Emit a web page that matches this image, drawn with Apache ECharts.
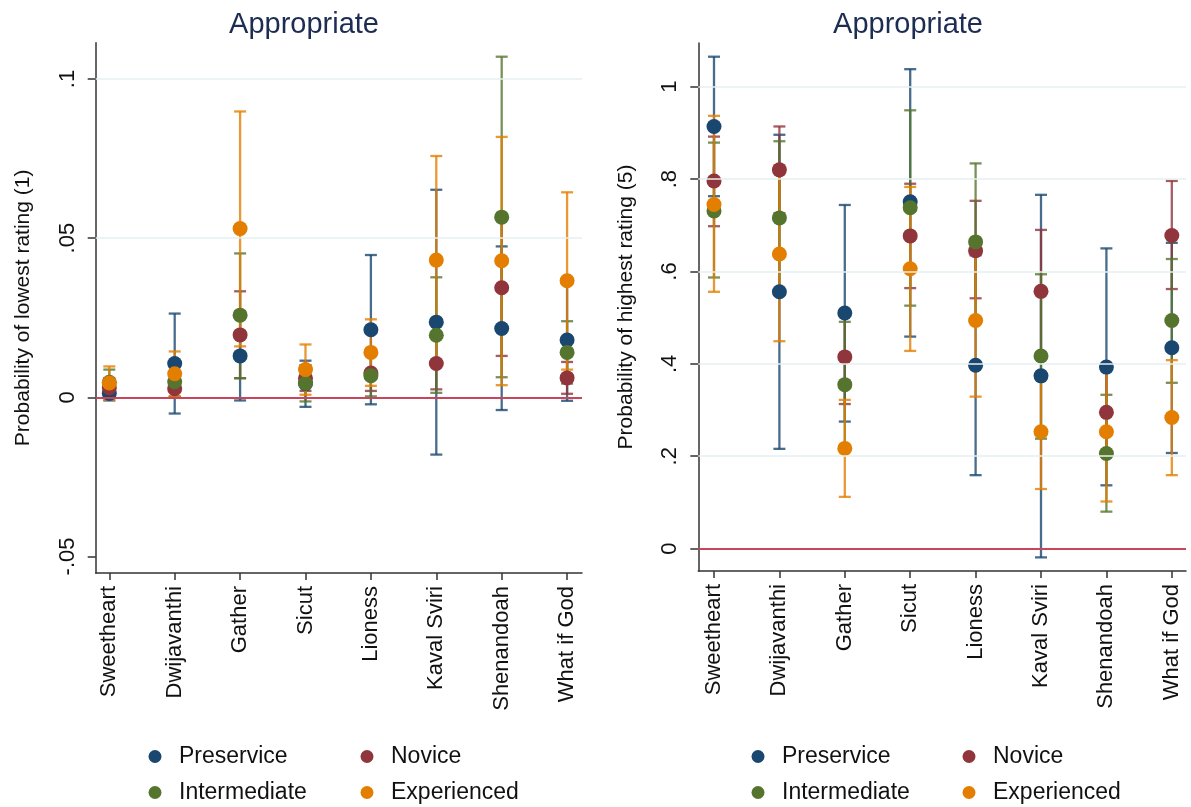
<!DOCTYPE html>
<html>
<head>
<meta charset="utf-8">
<script src="https://cdn.jsdelivr.net/npm/echarts@6/dist/echarts.min.js"></script>
<style>
html,body{margin:0;padding:0;background:#fff;}
#chart{width:1191px;height:807px;}
</style>
</head>
<body>
<div id="chart"></div>
<script>
// ---------------- DATA ----------------
const categories = ['Sweetheart','Dwijavanthi','Gather','Sicut','Lioness','Kaval Sviri','Shenandoah','What if God'];
const groups = ['Preservice','Novice','Intermediate','Experienced'];

// Left panel: Probability of lowest rating (1)
const lowPreservice   = [0.0012, 0.0106, 0.0130, 0.0043, 0.0212, 0.0236, 0.0216, 0.0180];
const lowPreserviceLo = [-0.0010, -0.0051, -0.0010, -0.0030, -0.0022, -0.0180, -0.0040, -0.0011];
const lowPreserviceHi = [0.0035, 0.0263, 0.0270, 0.0115, 0.0447, 0.0652, 0.0474, 0.0370];
const lowNovice       = [0.0030, 0.0027, 0.0196, 0.0060, 0.0076, 0.0106, 0.0344, 0.0061];
const lowNoviceLo     = [0.0000, 0.0000, 0.0060, 0.0020, 0.0020, 0.0025, 0.0130, 0.0011];
const lowNoviceHi     = [0.0060, 0.0055, 0.0333, 0.0100, 0.0130, 0.0187, 0.0558, 0.0111];
const lowIntermediate   = [0.0047, 0.0049, 0.0258, 0.0044, 0.0068, 0.0195, 0.0566, 0.0141];
const lowIntermediateLo = [0.0007, 0.0002, 0.0060, -0.0013, 0.0003, 0.0014, 0.0063, 0.0043];
const lowIntermediateHi = [0.0087, 0.0096, 0.0452, 0.0100, 0.0133, 0.0377, 0.1070, 0.0239];
const lowExperienced   = [0.0045, 0.0074, 0.0530, 0.0087, 0.0141, 0.0431, 0.0429, 0.0366];
const lowExperiencedLo = [-0.0008, 0.0004, 0.0160, 0.0008, 0.0036, 0.0104, 0.0038, 0.0087];
const lowExperiencedHi = [0.0097, 0.0144, 0.0898, 0.0166, 0.0245, 0.0758, 0.0818, 0.0644];

// Right panel: Probability of highest rating (5)
const highPreservice   = [0.914, 0.556, 0.510, 0.751, 0.397, 0.374, 0.393, 0.435];
const highPreserviceLo = [0.763, 0.216, 0.275, 0.459, 0.159, -0.019, 0.137, 0.207];
const highPreserviceHi = [1.065, 0.896, 0.744, 1.038, 0.635, 0.766, 0.650, 0.662];
const highNovice       = [0.796, 0.820, 0.415, 0.677, 0.645, 0.557, 0.295, 0.678];
const highNoviceLo     = [0.698, 0.726, 0.313, 0.564, 0.542, 0.424, 0.200, 0.562];
const highNoviceHi     = [0.892, 0.914, 0.517, 0.790, 0.753, 0.690, 0.390, 0.796];
const highIntermediate   = [0.731, 0.716, 0.355, 0.738, 0.664, 0.417, 0.206, 0.494];
const highIntermediateLo = [0.587, 0.550, 0.220, 0.526, 0.494, 0.238, 0.080, 0.359];
const highIntermediateHi = [0.879, 0.882, 0.491, 0.949, 0.834, 0.594, 0.333, 0.627];
const highExperienced   = [0.745, 0.638, 0.217, 0.606, 0.494, 0.253, 0.253, 0.284];
const highExperiencedLo = [0.556, 0.449, 0.112, 0.428, 0.329, 0.129, 0.102, 0.159];
const highExperiencedHi = [0.937, 0.830, 0.322, 0.783, 0.660, 0.376, 0.400, 0.408];

const lowTicks  = [-0.05, 0, 0.05, 0.1];
const highTicks = [0, 0.2, 0.4, 0.6, 0.8, 1];
const lowGrid   = [0.05, 0.1];
const highGrid  = [0.2, 0.4, 0.6, 0.8, 1];

// ---------------- STYLE ----------------
const colors = {Preservice:'#1a476f', Novice:'#90353b', Intermediate:'#55752f', Experienced:'#e37e00'};
const FONT = "'Liberation Sans', Arial, Helvetica, sans-serif";
const catIdx = categories.map((c,i)=>i);

function stataFmt(v){
  if (Math.abs(v) < 1e-9) return '0';
  let s = String(+v.toFixed(4));
  return s.replace(/^(-?)0\./, '$1.');
}

const panels = [
  {pts:[lowPreservice,lowNovice,lowIntermediate,lowExperienced],
   lo:[lowPreserviceLo,lowNoviceLo,lowIntermediateLo,lowExperiencedLo],
   hi:[lowPreserviceHi,lowNoviceHi,lowIntermediateHi,lowExperiencedHi],
   ticks:lowTicks, gridVals:lowGrid, name:'Probability of lowest rating (1)',
   ymin:-0.0552, ymax:0.1114, xmin:-0.208, xmax:7.228,
   grid:{left:95.7, top:42.7, width:486.3, height:530.3},
   titleX:304, legendX:[155,367]},
  {pts:[highPreservice,highNovice,highIntermediate,highExperienced],
   lo:[highPreserviceLo,highNoviceLo,highIntermediateLo,highExperiencedLo],
   hi:[highPreserviceHi,highNoviceHi,highIntermediateHi,highExperiencedHi],
   ticks:highTicks, gridVals:highGrid, name:'Probability of highest rating (5)',
   ymin:-0.0485, ymax:1.0947, xmin:-0.24, xmax:7.217,
   grid:{left:698.3, top:43, width:487.7, height:528},
   titleX:908, legendX:[758,969]}
];

const option = {
  backgroundColor:'#ffffff',
  animation:false,
  title:[], grid:[], xAxis:[], yAxis:[], series:[], legend:[]
};

panels.forEach((p, pi) => {
  option.title.push({
    text:'Appropriate', left:p.titleX, top:10, textAlign:'center', padding:0,
    textStyle:{fontFamily:FONT, fontSize:29, fontWeight:'normal', color:'#1c2c52'}
  });
  option.grid.push(Object.assign({containLabel:false}, p.grid));
  option.xAxis.push({
    type:'value', gridIndex:pi, min:p.xmin, max:p.xmax,
    axisLine:{show:true, onZero:false, lineStyle:{color:'#333', width:1.5}},
    axisTick:{show:true, customValues:catIdx, length:7, lineStyle:{color:'#333', width:1.5}},
    axisLabel:{show:true, customValues:catIdx, rotate:90, margin:13,
      fontFamily:FONT, fontSize:22, color:'#111',
      formatter:(v)=>categories[Math.round(v)] || ''},
    splitLine:{show:false}
  });
  option.yAxis.push({
    type:'value', gridIndex:pi, min:p.ymin, max:p.ymax,
    name:p.name, nameLocation:'middle', nameGap:62, nameRotate:90,
    nameTextStyle:{fontFamily:FONT, fontSize:21, color:'#111'},
    axisLine:{show:true, onZero:false, lineStyle:{color:'#333', width:1.5}},
    axisTick:{show:true, customValues:p.ticks, length:8, lineStyle:{color:'#333', width:1.5}},
    axisLabel:{show:true, customValues:p.ticks, rotate:90, margin:17,
      fontFamily:FONT, fontSize:22, color:'#111', formatter:stataFmt},
    splitLine:{show:false}
  });

  // reference lines (gridlines + red zero line) behind everything
  option.series.push({
    type:'line', xAxisIndex:pi, yAxisIndex:pi, data:[], z:1, silent:true,
    markLine:{silent:true, symbol:'none', animation:false, label:{show:false},
      data: p.gridVals.map(v=>({yAxis:v, lineStyle:{color:'#e6eff1', width:1.6, type:'solid'}}))
        .concat([{yAxis:0, lineStyle:{color:'#c8465c', width:2, type:'solid'}}])
    }
  });

  // confidence interval caps
  groups.forEach((g, gi) => {
    const col = colors[g];
    option.series.push({
      type:'custom', name:g+' CI', xAxisIndex:pi, yAxisIndex:pi, z:2, silent:true,
      encode:{x:0, y:[1,2]},
      data: catIdx.map(i=>[i, p.lo[gi][i], p.hi[gi][i]]),
      renderItem:(params, api) => {
        const x = api.value(0);
        const a = api.coord([x, api.value(1)]);
        const b = api.coord([x, api.value(2)]);
        const hw = 6;
        const st = {stroke:col, lineWidth:2.3, opacity:0.8};
        return {type:'group', children:[
          {type:'line', shape:{x1:a[0], y1:a[1], x2:b[0], y2:b[1]}, style:st},
          {type:'line', shape:{x1:a[0]-hw, y1:a[1], x2:a[0]+hw, y2:a[1]}, style:st},
          {type:'line', shape:{x1:b[0]-hw, y1:b[1], x2:b[0]+hw, y2:b[1]}, style:st}
        ]};
      }
    });
  });
  // point estimates
  groups.forEach((g, gi) => {
    option.series.push({
      type:'scatter', name:g, xAxisIndex:pi, yAxisIndex:pi, z:3,
      symbol:'circle', symbolSize:15,
      itemStyle:{color:colors[g], opacity:1},
      data: catIdx.map(i=>[i, p.pts[gi][i]])
    });
  });

  // legends (2 x 2)
  const rows = [757, 793];
  groups.forEach((g, gi) => {
    const r = Math.floor(gi/2), c = gi%2;
    option.legend.push({
      data:[{name:g, icon:'circle'}],
      left:p.legendX[c]-6.5, top:rows[r]-12, padding:0,
      itemWidth:38, itemHeight:13, selectedMode:false,
      textStyle:{fontFamily:FONT, fontSize:23, color:'#111'}
    });
  });
});

const chart = echarts.init(document.getElementById('chart'), null, {renderer:'canvas'});
chart.setOption(option);
</script>
</body>
</html>
